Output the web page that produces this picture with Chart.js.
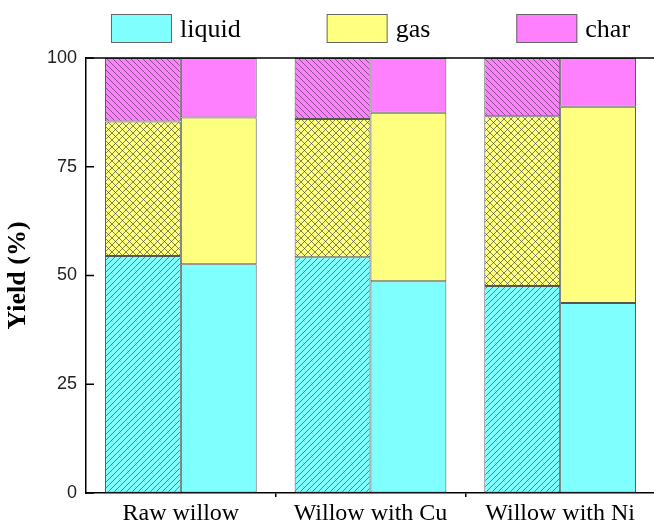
<!DOCTYPE html>
<html>
<head>
<meta charset="utf-8">
<script src="https://cdn.jsdelivr.net/npm/chart.js@4"></script>
<style>
html, body { margin: 0; padding: 0; overflow: hidden; background: #fff; }
#wrap { width: 657px; height: 526px; }
</style>
</head>
<body>
<div id="wrap"><canvas id="yieldChart" width="657" height="526"></canvas></div>
<script>
// product yields (%), hatched bar then plain bar for each sample
const categories = ['Raw willow', 'Willow with Cu', 'Willow with Ni'];
const yTicks = [0, 25, 50, 75, 100];

const liquidHatched = [54.5, 54.2, 47.6];
const gasHatched = [30.9, 31.8, 39.0];
const charHatched = [14.6, 14.0, 13.4];

const liquidPlain = [52.6, 48.7, 43.7];
const gasPlain = [33.7, 38.7, 45.1];
const charPlain = [13.7, 12.6, 11.2];

const CYAN = '#80ffff', YELLOW = '#ffff80', PINK = '#ff80ff';
const SERIF = '"Liberation Serif", "Times New Roman", serif';
const SANS = '"Liberation Sans", Arial, sans-serif';

function hatch(bg, kind, s){
  let c = document.createElement('canvas');
  c.width = s; c.height = s;
  let g = c.getContext('2d');
  g.fillStyle = bg;
  g.fillRect(0, 0, s, s);
  g.strokeStyle = 'rgba(50,50,50,0.75)';
  g.lineWidth = 0.8;
  function line(x0, y0, x1, y1){ g.beginPath(); g.moveTo(x0, y0); g.lineTo(x1, y1); g.stroke(); }
  if(kind === 'up' || kind === 'cross'){
    line(-1, s + 1, s + 1, -1);
    line(-1, 1, 1, -1);
    line(s - 1, s + 1, s + 1, s - 1);
  }
  if(kind === 'down' || kind === 'cross'){
    line(-1, -1, s + 1, s + 1);
    line(s - 1, -1, s + 1, 1);
    line(-1, s - 1, 1, s + 1);
  }
  return g.createPattern(c, 'repeat');
}

function ds(label, data, fill, stack){
  return {
    label: label, data: data, stack: stack,
    backgroundColor: fill,
    borderColor: '#555', borderWidth: 1, borderSkipped: false
  };
}

// legend drawn above the plot, centred over the chart area
const legendPlugin = {
  id: 'topLegend',
  afterDraw(chart){
    let ctx = chart.ctx;
    let area = chart.chartArea;
    let items = chart.data.datasets.filter(d => d.stack === 'plain');
    let boxW = 61, boxH = 29, gap = 8, pad = 86;
    ctx.save();
    ctx.font = '26px ' + SERIF;
    let total = 0;
    items.forEach((d, i) => {
      total += boxW + gap + ctx.measureText(d.label).width + (i ? pad : 0);
    });
    let x = (area.left + area.right) / 2 - total / 2;
    items.forEach(d => {
      ctx.fillStyle = d.backgroundColor;
      ctx.fillRect(x, 14, boxW, boxH);
      ctx.strokeStyle = '#666';
      ctx.lineWidth = 1;
      ctx.strokeRect(x + 0.5, 14.5, boxW - 1, boxH - 1);
      ctx.fillStyle = '#000';
      ctx.textBaseline = 'alphabetic';
      ctx.fillText(d.label, x + boxW + gap, 37);
      x += boxW + gap + ctx.measureText(d.label).width + pad;
    });
    ctx.restore();
  }
};

// top frame line and inward y ticks
const framePlugin = {
  id: 'frame',
  afterDatasetsDraw(chart){
    let ctx = chart.ctx;
    let a = chart.chartArea;
    let y = chart.scales.y;
    ctx.save();
    ctx.strokeStyle = '#000';
    ctx.lineWidth = 1.5;
    ctx.beginPath();
    ctx.moveTo(a.left, a.top);
    ctx.lineTo(a.right, a.top);
    ctx.lineTo(a.right, a.bottom);
    ctx.stroke();
    yTicks.forEach(v => {
      let py = y.getPixelForValue(v);
      ctx.beginPath();
      ctx.moveTo(a.left, py);
      ctx.lineTo(a.left + 8, py);
      ctx.stroke();
    });
    ctx.restore();
  }
};

new Chart(document.getElementById('yieldChart'), {
  type: 'bar',
  data: {
    labels: categories,
    datasets: [
      ds('liquid', liquidHatched, hatch(CYAN, 'up', 6), 'hatched'),
      ds('gas', gasHatched, hatch(YELLOW, 'cross', 7), 'hatched'),
      ds('char', charHatched, hatch(PINK, 'down', 6), 'hatched'),
      ds('liquid', liquidPlain, CYAN, 'plain'),
      ds('gas', gasPlain, YELLOW, 'plain'),
      ds('char', charPlain, PINK, 'plain')
    ]
  },
  options: {
    responsive: false,
    animation: false,
    categoryPercentage: 0.8,
    barPercentage: 1.0,
    layout: { padding: { top: 58, right: 2, left: 0, bottom: 0 } },
    plugins: {
      legend: { display: false },
      tooltip: { enabled: false }
    },
    scales: {
      x: {
        stacked: true,
        afterFit(scale){ scale.height = 33; },
        border: { display: true, color: '#000', width: 1.5 },
        grid: {
          offset: true,
          drawOnChartArea: false,
          drawTicks: true,
          tickLength: 4,
          lineWidth: 1.5,
          color: c => (c.index === 1 || c.index === 2) ? '#000' : 'rgba(0,0,0,0)'
        },
        ticks: { color: '#000', padding: 2, font: { family: SERIF, size: 24 } }
      },
      y: {
        stacked: true,
        min: 0, max: 100,
        afterFit(scale){ scale.width = 86; },
        afterBuildTicks(scale){ scale.ticks = yTicks.map(v => ({ value: v })); },
        border: { display: true, color: '#000', width: 1.5 },
        grid: { display: true, drawOnChartArea: false, drawTicks: false },
        ticks: { color: '#222', padding: 9, font: { family: SANS, size: 18 } },
        title: {
          display: true,
          text: 'Yield (%)',
          color: '#000',
          padding: { top: 3, bottom: 4 },
          font: { family: SERIF, size: 26, weight: 'bold' }
        }
      }
    }
  },
  plugins: [legendPlugin, framePlugin]
});
</script>
</body>
</html>
